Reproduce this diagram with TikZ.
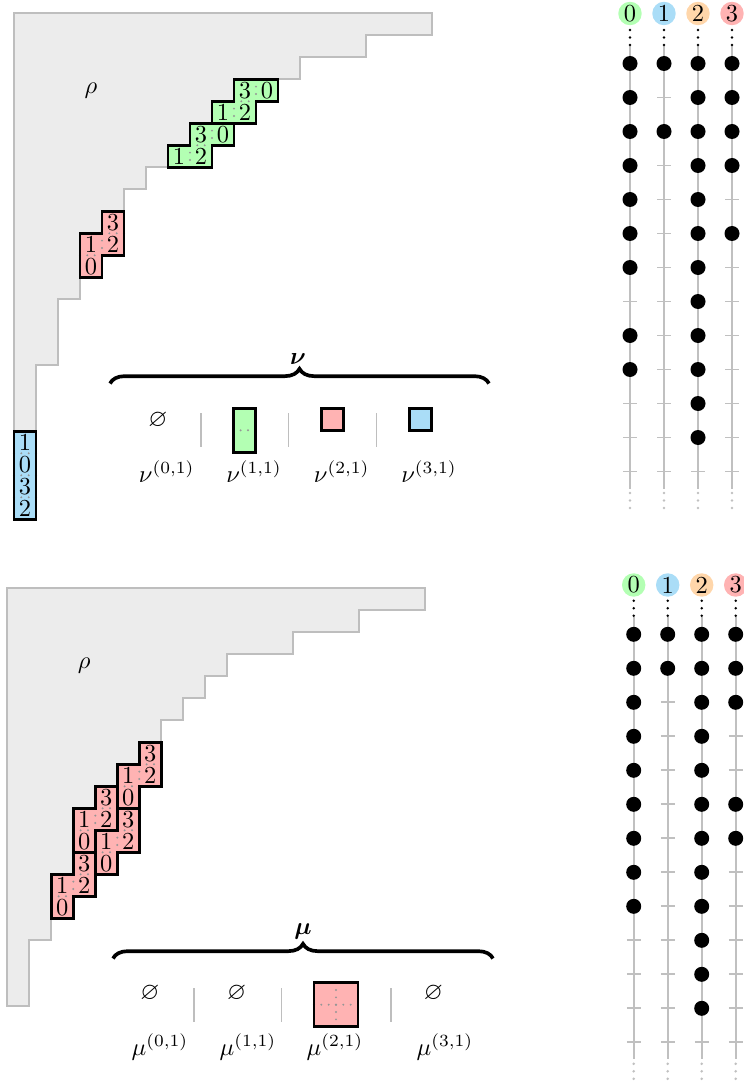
\documentclass[tikz,border=0pt]{standalone}
\usepackage{amssymb}
\usepackage{bm}
\usetikzlibrary{decorations.pathreplacing}
\definecolor{rhofill}{RGB}{236,236,236}
\definecolor{rhoedge}{RGB}{190,190,190}
\definecolor{dotgray}{RGB}{150,150,150}
\definecolor{rgreen}{RGB}{179,255,179}
\definecolor{rred}{RGB}{255,179,179}
\definecolor{rblue}{RGB}{170,221,247}
\definecolor{rorange}{RGB}{255,214,170}
\definecolor{runner}{RGB}{192,192,192}

% ribbon shapes (row #1, column #2 of the top cell), in cell units
\newcommand{\GFill}[2]{\fill[rgreen] (#2,#1) -- ++(2,0) -- ++(0,1) -- ++(-1,0) -- ++(0,1) -- ++(-2,0) -- ++(0,-1) -- ++(1,0) -- cycle;
  \draw[innerdots] (#2+1,#1) -- (#2+1,#1+1);
  \draw[innerdots] (#2,#1+1) -- (#2+1,#1+1);
  \draw[innerdots] (#2,#1+1) -- (#2,#1+2);}
\newcommand{\GEdge}[3]{\draw[ribbonedge] (#2,#1) -- ++(2,0) -- ++(0,1) -- ++(-1,0) -- ++(0,1) -- ++(-2,0) -- ++(0,-1) -- ++(1,0) -- cycle;
  \node[celltxt] (#3a) at (#2+0.5,#1+0.5) {3};
  \node[celltxt] (#3b) at (#2+1.5,#1+0.5) {0};
  \node[celltxt] (#3c) at (#2-0.5,#1+1.5) {1};
  \node[celltxt] (#3d) at (#2+0.5,#1+1.5) {2};}
\newcommand{\RFill}[2]{\fill[rred] (#2,#1) -- ++(1,0) -- ++(0,2) -- ++(-1,0) -- ++(0,1) -- ++(-1,0) -- ++(0,-2) -- ++(1,0) -- cycle;
  \draw[innerdots] (#2,#1+1) -- (#2+1,#1+1);
  \draw[innerdots] (#2,#1+1) -- (#2,#1+2);
  \draw[innerdots] (#2-1,#1+2) -- (#2,#1+2);}
\newcommand{\REdge}[3]{\draw[ribbonedge] (#2,#1) -- ++(1,0) -- ++(0,2) -- ++(-1,0) -- ++(0,1) -- ++(-1,0) -- ++(0,-2) -- ++(1,0) -- cycle;
  \node[celltxt] (#3a) at (#2+0.5,#1+0.5) {3};
  \node[celltxt] (#3b) at (#2-0.5,#1+1.5) {1};
  \node[celltxt] (#3c) at (#2+0.5,#1+1.5) {2};
  \node[celltxt] (#3d) at (#2-0.5,#1+2.5) {0};}
\newcommand{\RhoShape}{\filldraw[rhoshape] (0,0) -- (19,0) -- (19,1) -- (16,1) -- (16,2) -- (13,2) -- (13,3) -- (10,3) -- (10,4) -- (9,4) -- (9,5) -- (8,5) -- (8,6) -- (7,6) -- (7,7) -- (6,7) -- (6,8) -- (5,8) -- (5,9) -- (4,9) -- (4,10) -- (3,10) -- (3,13) -- (2,13) -- (2,16) -- (1,16) -- (1,19) -- (0,19) -- cycle;}
% abacus runner: #1 x, #2 y of first position, #3 bead positions
\newcommand{\AbRunner}[3]{%
  \draw[runnerline] (#1,#2-17) -- (#1,#2+425);
  \foreach \k in {0,...,12}{\draw[runnerline] (#1-6.8,#2+34*\k) -- (#1+6.8,#2+34*\k);}
  \foreach \k in {#3}{\fill[black] (#1,#2+34*\k) circle[radius=7.5];}
  \foreach \d in {-33.5,-26,-18.5}{\fill[black] (#1,#2+\d) circle[radius=1.4];}
  \foreach \d in {429.5,437,444.5}{\fill[runner] (#1,#2+\d) circle[radius=1.4];}}

\begin{document}
\begin{tikzpicture}[x=0.40909pt,y=-0.40909pt,
  rhoshape/.style={fill=rhofill,draw=rhoedge,line width=0.8pt},
  ribbonedge/.style={draw=black,line width=1pt},
  innerdots/.style={draw=dotgray,line width=0.9pt,line cap=round,dash pattern=on 0pt off 3pt},
  celltxt/.style={inner sep=0pt},
  sepline/.style={draw=rhoedge,line width=0.6pt},
  bracestyle/.style={decorate,decoration={brace,amplitude=6pt},line width=1.5pt},
  runnerline/.style={draw=runner,line width=0.8pt},
  runlabel/.style={circle,inner sep=0pt,minimum size=9.6pt}]
\useasboundingbox (0,0) rectangle (743,1081);

%================ TOP ================
\begin{scope}[shift={(14,13.3)}]
\begin{scope}[x=9pt,y=-9pt]
  \RhoShape
  \node (rhoA) at (3.5,3.5) {$\rho$};
  \GFill{3}{10} \GFill{5}{8} \RFill{9}{4}
  \fill[rblue] (0,19) rectangle (1,23);
  \draw[innerdots] (0,20) -- (1,20);
  \draw[innerdots] (0,21) -- (1,21);
  \draw[innerdots] (0,22) -- (1,22);
  \GEdge{3}{10}{gA} \GEdge{5}{8}{gB} \REdge{9}{4}{rA}
  \draw[ribbonedge] (0,19) rectangle (1,23);
  \node[celltxt] (bA) at (0.5,19.5) {1};
  \node[celltxt] (bB) at (0.5,20.5) {0};
  \node[celltxt] (bC) at (0.5,21.5) {3};
  \node[celltxt] (bD) at (0.5,22.5) {2};
\end{scope}
\end{scope}

% nu legend
\draw[bracestyle] (110,383.5) -- (489,383.5);
\node (nu) at (298,359.5) {$\bm{\nu}$};
\node (nuE) at (158,420) {$\varnothing$};
\draw[sepline] (201,413) -- (201,447);
\draw[sepline] (288.7,413) -- (288.7,447);
\draw[sepline] (376.7,413) -- (376.7,447);
\fill[rgreen] (233.3,408.3) rectangle (255.3,452.3);
\draw[innerdots] (233.3,430.3) -- (255.3,430.3);
\draw[ribbonedge] (233.3,408.3) rectangle (255.3,452.3);
\filldraw[ribbonedge,fill=rred] (321.3,408.3) rectangle (343.3,430.3);
\filldraw[ribbonedge,fill=rblue] (409.3,408.3) rectangle (431.3,430.3);
\node (nu0) at (166.7,471.7) {$\nu^{(0,1)}$};
\node (nu1) at (254,471.7) {$\nu^{(1,1)}$};
\node (nu2) at (341.7,471.7) {$\nu^{(2,1)}$};
\node (nu3) at (429,471.7) {$\nu^{(3,1)}$};

% top abacus
\AbRunner{630}{63.5}{0,1,2,3,4,5,6,8,9}
\AbRunner{664}{63.5}{0,2}
\AbRunner{698}{63.5}{0,1,2,3,4,5,6,7,8,9,10,11}
\AbRunner{732}{63.5}{0,1,2,3,5}
\node[runlabel,fill=rgreen] (t0) at (630,13.5) {0};
\node[runlabel,fill=rblue] (t1) at (664,13.5) {1};
\node[runlabel,fill=rorange] (t2) at (698,13.5) {2};
\node[runlabel,fill=rred] (t3) at (732,13.5) {3};

%================ BOTTOM ================
\begin{scope}[shift={(7.3,588.3)}]
\begin{scope}[x=9pt,y=-9pt]
  \RhoShape
  \node (rhoB) at (3.5,3.5) {$\rho$};
  \RFill{7}{6} \RFill{9}{4} \RFill{10}{5} \RFill{12}{3}
  \REdge{7}{6}{rB} \REdge{9}{4}{rC} \REdge{10}{5}{rD} \REdge{12}{3}{rE}
\end{scope}
\end{scope}

% mu legend
\draw[bracestyle] (113,958.5) -- (493,958.5);
\node (mu) at (303,931.7) {$\bm{\mu}$};
\node (muE0) at (150,993.3) {$\varnothing$};
\node (muE1) at (236.7,993.3) {$\varnothing$};
\node (muE3) at (433.3,993.3) {$\varnothing$};
\draw[sepline] (194,988) -- (194,1021.7);
\draw[sepline] (281.7,988) -- (281.7,1021.7);
\draw[sepline] (391,988) -- (391,1021.7);
\fill[rred] (314,982.7) rectangle (358,1026.7);
\draw[innerdots] (314,1004.7) -- (358,1004.7);
\draw[innerdots] (336,982.7) -- (336,1026.7);
\draw[ribbonedge] (314,982.7) rectangle (358,1026.7);
\node (mu0) at (160,1046.7) {$\mu^{(0,1)}$};
\node (mu1) at (248,1046.7) {$\mu^{(1,1)}$};
\node (mu2) at (335,1046.7) {$\mu^{(2,1)}$};
\node (mu3) at (445,1046.7) {$\mu^{(3,1)}$};

% bottom abacus
\AbRunner{633.7}{634.3}{0,1,2,3,4,5,6,7,8}
\AbRunner{667.7}{634.3}{0,1}
\AbRunner{701.7}{634.3}{0,1,2,3,4,5,6,7,8,9,10,11}
\AbRunner{735.7}{634.3}{0,1,2,5,6}
\node[runlabel,fill=rgreen] (u0) at (633.7,585) {0};
\node[runlabel,fill=rblue] (u1) at (667.7,585) {1};
\node[runlabel,fill=rorange] (u2) at (701.7,585) {2};
\node[runlabel,fill=rred] (u3) at (735.7,585) {3};
\end{tikzpicture}
\end{document}
